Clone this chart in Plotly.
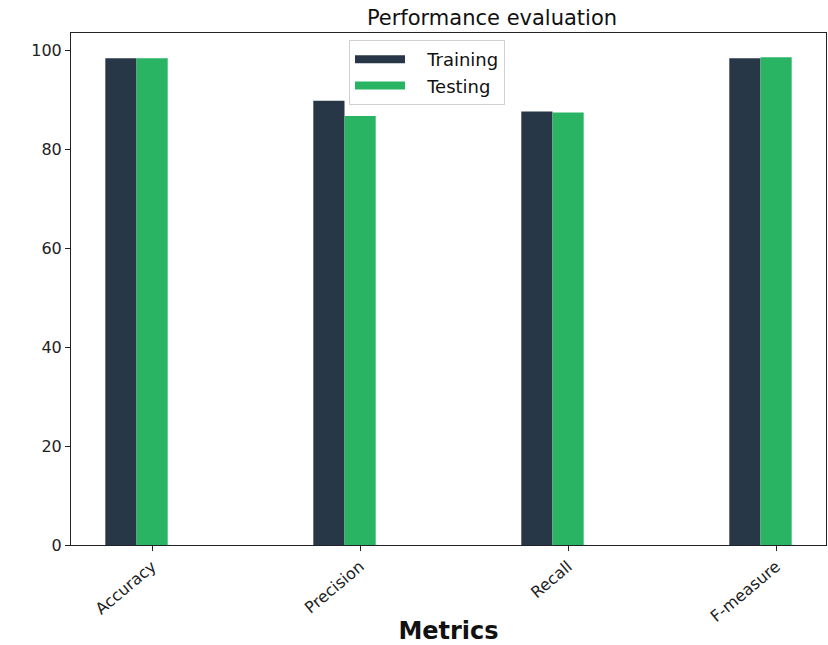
import numpy as np
import plotly.graph_objects as go

categories = ["Accuracy", "Precision", "Recall", "F-measure"]
training = [98.5, 89.9, 87.7, 98.5]
testing = [98.5, 86.8, 87.5, 98.7]
series_names = ["Training", "Testing"]
series_colors = ["#283747", "#28B463"]

W, H = 828, 645
L, R, T, B = 71, 2, 33, 100
bar_w = 0.15
idx = np.arange(len(categories))

fig = go.Figure()
fig.add_trace(go.Bar(x=idx, y=training, width=bar_w, name=series_names[0], showlegend=False,
                     marker=dict(color=series_colors[0], line=dict(width=0))))
fig.add_trace(go.Bar(x=idx + bar_w, y=testing, width=bar_w, name=series_names[1], showlegend=False,
                     marker=dict(color=series_colors[1], line=dict(width=0))))
# legend entries with wide rectangular patches (matplotlib-like)
pad = "\u00a0" * 3
for nm, col in zip(series_names, series_colors):
    fig.add_trace(go.Scatter(x=[None], y=[None], mode="lines", name=pad + nm,
                             line=dict(color=col, width=8)))

font = "DejaVu Sans, sans-serif"
fig.update_layout(
    width=W, height=H,
    margin=dict(l=L, r=R, t=T, b=B),
    paper_bgcolor="white", plot_bgcolor="white",
    barmode="overlay",
    font=dict(family=font, size=15, color="#222"),
    title=dict(text="Performance evaluation", x=492 / W, xanchor="center",
               y=1 - 18 / H, yanchor="middle", font=dict(size=21, color="#111")),
    showlegend=True,
    legend=dict(x=(349 - L) / (W - L - R), y=1 - (40 - T) / (H - T - B),
                xanchor="left", yanchor="top",
                bgcolor="rgba(255,255,255,0.8)", bordercolor="#d0d0d0", borderwidth=1,
                font=dict(size=18, color="#111"), itemwidth=50,
                tracegroupgap=0),
    xaxis=dict(range=[-0.24, 3.39], tickmode="array",
               tickvals=list(idx + bar_w), ticktext=categories,
               tickangle=-40, ticks="outside", ticklen=5, tickcolor="#222",
               tickfont=dict(size=16), automargin=False,
               showline=True, linecolor="#222", linewidth=1, mirror=True,
               showgrid=False, zeroline=False,
               title=dict(text="<b>Metrics</b>", font=dict(size=24, color="#111"), standoff=4)),
    yaxis=dict(range=[0, 103.6], tickvals=[0, 20, 40, 60, 80, 100],
               ticks="outside", ticklen=5, tickcolor="#222",
               tickfont=dict(size=16), automargin=False,
               showline=True, linecolor="#222", linewidth=1, mirror=True,
               showgrid=False, zeroline=False),
)

fig.write_html("out.html")
